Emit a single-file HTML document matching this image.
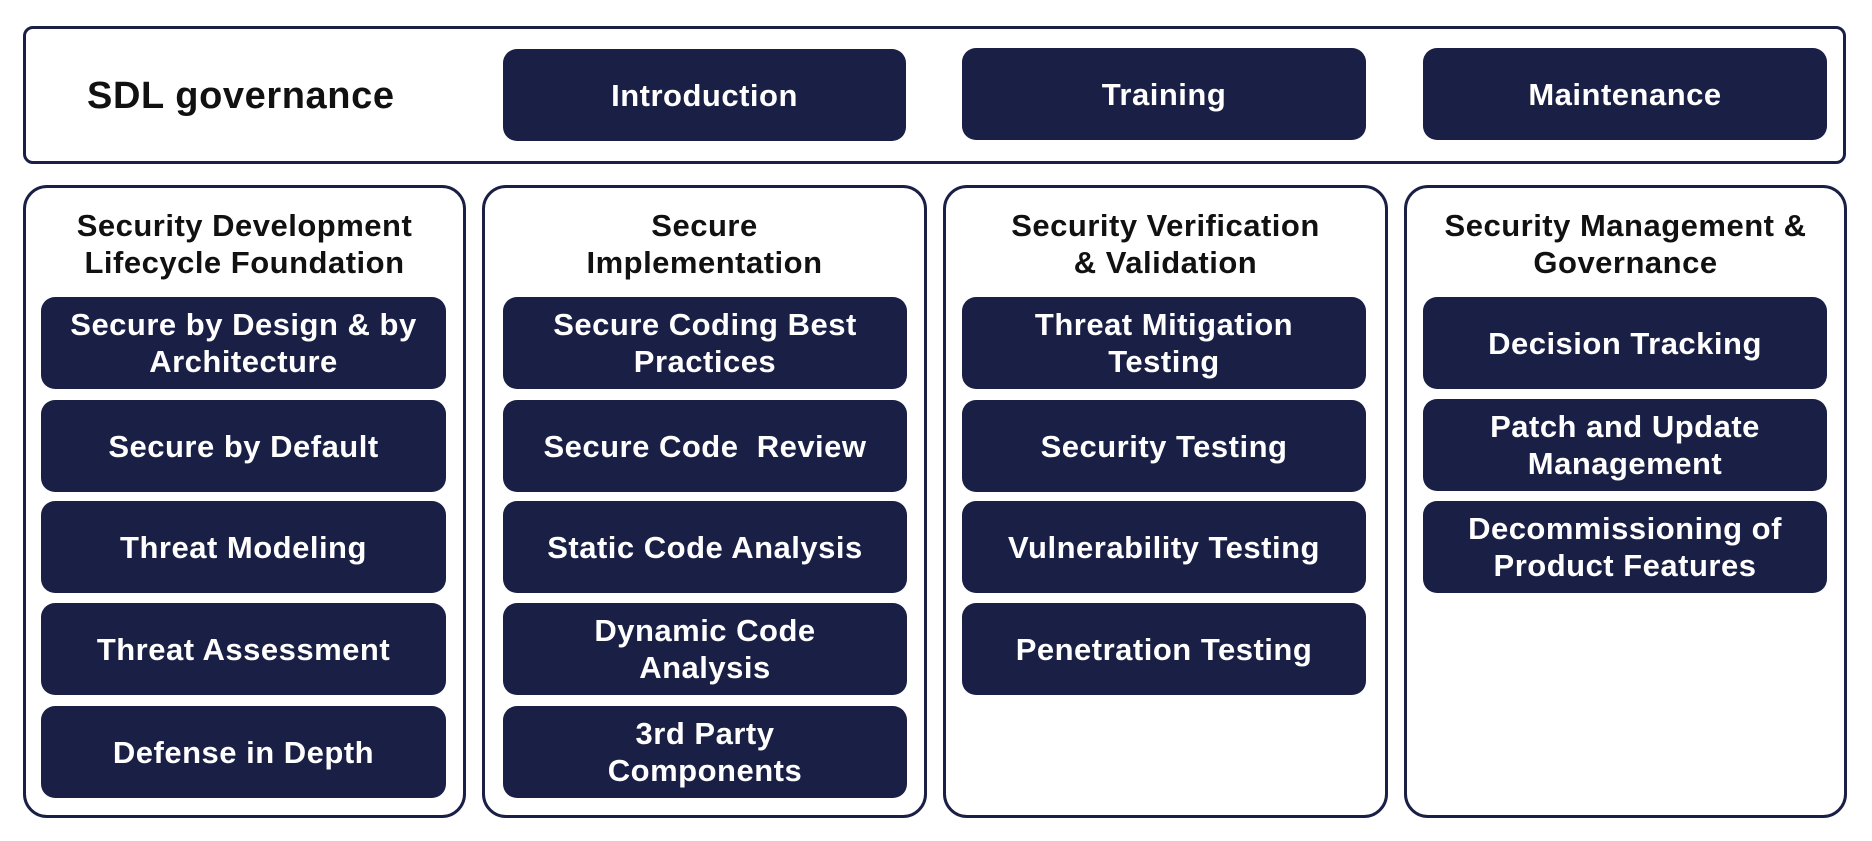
<!DOCTYPE html>
<html><head><meta charset="utf-8"><style>
body{margin:0;width:1872px;height:841px;background:#fff;position:relative;overflow:hidden;font-family:"Liberation Sans",sans-serif;}
.b{position:absolute;background:#1a1f45;color:#fff;border-radius:14px;display:flex;align-items:center;justify-content:center;text-align:center;font-weight:bold;font-size:31px;line-height:37px;letter-spacing:0.5px;}
.box{position:absolute;border:3px solid #1a1f45;box-sizing:border-box;background:#fff;}
.t{position:absolute;text-align:center;font-weight:bold;font-size:31px;line-height:37px;color:#111;letter-spacing:0.5px;}
</style></head><body>
<div class="box" style="left:23px;top:26px;width:1823px;height:138px;border-radius:10px"></div>
<div class="t" style="left:87px;top:74px;font-size:38px;line-height:44px;text-align:left;letter-spacing:0.6px">SDL governance</div>
<div class="b" style="left:503px;top:49px;width:403px;height:92px">Introduction</div>
<div class="b" style="left:962px;top:48px;width:404px;height:92px">Training</div>
<div class="b" style="left:1423px;top:48px;width:404px;height:92px">Maintenance</div>

<div class="box" style="left:23px;top:185px;width:443px;height:633px;border-radius:24px"></div>
<div class="box" style="left:482px;top:185px;width:445px;height:633px;border-radius:24px"></div>
<div class="box" style="left:943px;top:185px;width:445px;height:633px;border-radius:24px"></div>
<div class="box" style="left:1404px;top:185px;width:443px;height:633px;border-radius:24px"></div>

<div class="t" style="left:13px;top:207px;width:463px">Security Development<br>Lifecycle Foundation</div>
<div class="t" style="left:472px;top:207px;width:465px">Secure<br>Implementation</div>
<div class="t" style="left:933px;top:207px;width:465px">Security Verification<br>&amp; Validation</div>
<div class="t" style="left:1394px;top:207px;width:463px">Security Management &amp;<br>Governance</div>

<div class="b" style="left:41px;top:297px;width:405px;height:92px">Secure by Design &amp; by<br>Architecture</div>
<div class="b" style="left:41px;top:400px;width:405px;height:92px">Secure by Default</div>
<div class="b" style="left:41px;top:501px;width:405px;height:92px">Threat Modeling</div>
<div class="b" style="left:41px;top:603px;width:405px;height:92px">Threat Assessment</div>
<div class="b" style="left:41px;top:706px;width:405px;height:92px">Defense in Depth</div>

<div class="b" style="left:503px;top:297px;width:404px;height:92px">Secure Coding Best<br>Practices</div>
<div class="b" style="left:503px;top:400px;width:404px;height:92px">Secure Code&nbsp; Review</div>
<div class="b" style="left:503px;top:501px;width:404px;height:92px">Static Code Analysis</div>
<div class="b" style="left:503px;top:603px;width:404px;height:92px">Dynamic Code<br>Analysis</div>
<div class="b" style="left:503px;top:706px;width:404px;height:92px">3rd Party<br>Components</div>

<div class="b" style="left:962px;top:297px;width:404px;height:92px">Threat Mitigation<br>Testing</div>
<div class="b" style="left:962px;top:400px;width:404px;height:92px">Security Testing</div>
<div class="b" style="left:962px;top:501px;width:404px;height:92px">Vulnerability Testing</div>
<div class="b" style="left:962px;top:603px;width:404px;height:92px">Penetration Testing</div>

<div class="b" style="left:1423px;top:297px;width:404px;height:92px">Decision Tracking</div>
<div class="b" style="left:1423px;top:399px;width:404px;height:92px">Patch and Update<br>Management</div>
<div class="b" style="left:1423px;top:501px;width:404px;height:92px">Decommissioning of<br>Product Features</div>
</body></html>
